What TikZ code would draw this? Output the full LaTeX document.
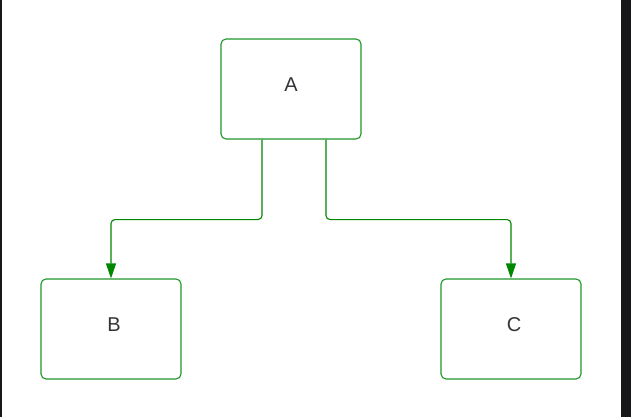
\documentclass[tikz,border=0pt]{standalone}
\usepackage{fontspec}
\setmainfont{Liberation Sans}
\usetikzlibrary{arrows.meta}
\definecolor{boxgreen}{RGB}{30,150,40}
\definecolor{arrgreen}{RGB}{0,135,0}
\definecolor{txt}{RGB}{50,52,56}
\definecolor{frame}{RGB}{22,23,25}
\tikzset{
  box/.style={draw=boxgreen, line width=1.1pt, rounded corners=5pt, minimum width=140pt, minimum height=100pt, inner sep=0pt},
  lbl/.style={inner sep=0pt, text=txt, font=\fontsize{20}{22}\selectfont},
  conn/.style={draw=arrgreen, line width=1.1pt, rounded corners=4pt, -{Triangle[length=15pt,width=10pt]}}
}
\begin{document}
\begin{tikzpicture}[x=1pt,y=-1pt]
\fill[white] (0,0) rectangle (631,417);
\useasboundingbox (0,0) rectangle (631,417);
\fill[frame] (0,0) rectangle (2,417);
\fill[frame] (621,0) rectangle (631,417);
\node[box] (A) at (291,89) {};
\node[box] (B) at (111,329) {};
\node[box] (C) at (511,329) {};
\node[lbl] (lA) at ([shift={(0,-4)}]A.center) {A};
\node[lbl] (lB) at ([shift={(3,-4)}]B.center) {B};
\node[lbl] (lC) at ([shift={(3,-4)}]C.center) {C};
\draw[conn] ([xshift=-29pt]A.south) -- ++(0,80) -| (B.north);
\draw[conn] ([xshift=35pt]A.south) -- ++(0,80) -| (C.north);
\end{tikzpicture}
\end{document}
